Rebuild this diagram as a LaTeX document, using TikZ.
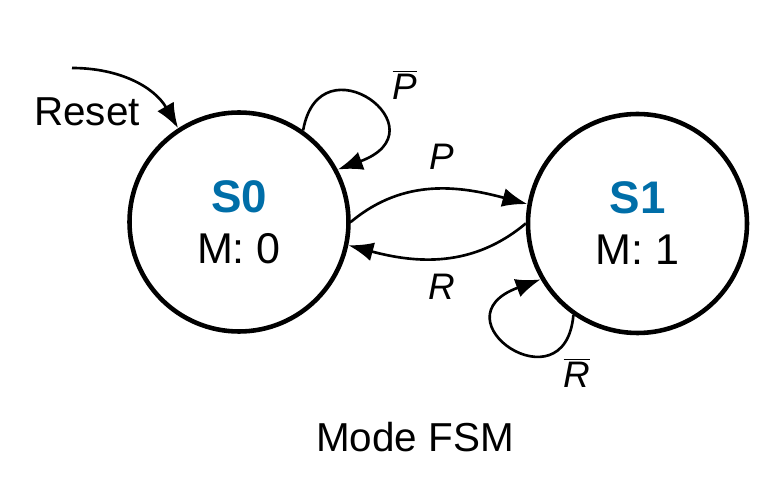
\documentclass[tikz,border=0pt]{standalone}
\usepackage{fontspec}
\setmainfont{Liberation Sans}
\usepackage{tikz}
\usetikzlibrary{arrows.meta}
\tikzset{>={Latex[length=0.5cm,width=0.38cm]}}
\usepackage{xcolor}
\definecolor{stateblue}{RGB}{0,110,168}
\tikzstyle{fsmstate}=[circle,draw=black,line width=2.6pt,minimum size=4.38cm,inner sep=0,align=center,font=\fontsize{24.5}{29}\selectfont]
\tikzstyle{edge}=[line width=1.5pt,->]
\newcommand{\statename}[1]{{\fontsize{26}{29}\selectfont\bfseries\color{stateblue}#1}}

\begin{document}
\begin{tikzpicture}
\useasboundingbox (0,0) rectangle (15.52,9.64);

\node[fsmstate] (s0) at (4.78,5.2) {\statename{S0}\\M: 0};
\node[fsmstate] (s1) at (12.75,5.17) {\statename{S1}\\M: 1};

% reset
\coordinate (rst) at (1.44,8.28);
\node[font=\fontsize{23}{27}\selectfont] (rsttext) at (1.74,7.40) {Reset};
\draw[edge] (rst) to[out=0,in=120] (s0.123);

% self loops
\draw[edge] (s0.55) .. controls +(80:1.9) and +(20:2.3) .. (s0.28);
\node[font=\fontsize{21}{24}\selectfont] (pbar) at (8.1,7.94) {$\overline{\mbox{\itshape P}}$};
\draw[edge] (s1.235) .. controls +(265:1.9) and +(200:2.3) .. (s1.210);
\node[font=\fontsize{21}{24}\selectfont] (rbar) at (11.54,2.18) {$\overline{\mbox{\itshape R}}$};

% transitions
\draw[edge] (s0.0) to[out=40,in=165] (s1.170);
\node[font=\fontsize{21}{24}\selectfont\itshape] (p) at (8.84,6.5) {P};
\draw[edge] (s1.180) to[out=-140,in=-15] (s0.-12);
\node[font=\fontsize{21}{24}\selectfont\itshape] (r) at (8.84,3.9) {R};

\node[font=\fontsize{23}{27}\selectfont] (title) at (8.3,0.9) {Mode FSM};
\end{tikzpicture}
\end{document}
